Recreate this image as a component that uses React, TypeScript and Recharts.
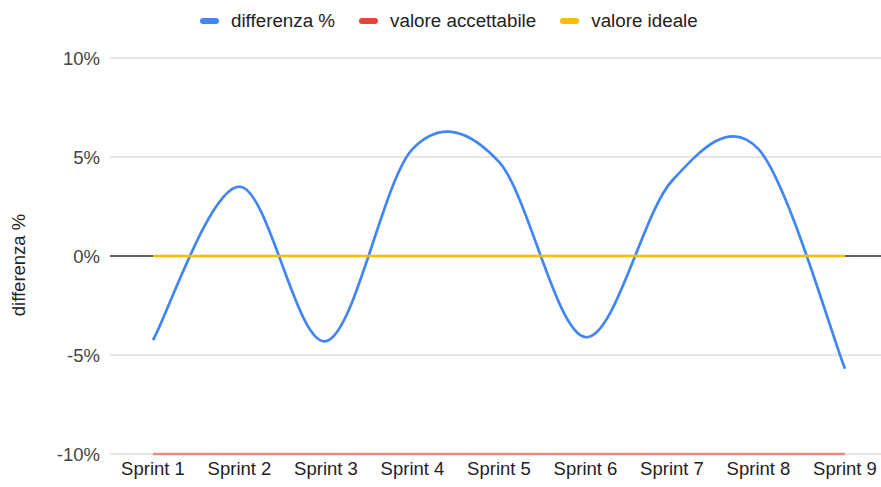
import React from "react";
import { CartesianGrid, Line, LineChart, ReferenceLine, XAxis, YAxis } from "recharts";

const sprints = ["Sprint 1", "Sprint 2", "Sprint 3", "Sprint 4", "Sprint 5", "Sprint 6", "Sprint 7", "Sprint 8", "Sprint 9"];
const differenza = [-4.25, 3.5, -4.3, 5.4, 4.75, -4.1, 3.8, 5.4, -5.7];
const accettabile = [-10, -10, -10, -10, -10, -10, -10, -10, -10];
const ideale = [0, 0, 0, 0, 0, 0, 0, 0, 0];
const yTicks = [-10, -5, 0, 5, 10];

const seriesNames = ["differenza %", "valore accettabile", "valore ideale"];
const seriesColors = ["#4285f4", "#ea4335", "#fbbc04"];

const rows = sprints.map((sprint, i) => ({
  sprint,
  differenza: differenza[i],
  accettabile: accettabile[i],
  ideale: ideale[i],
}));

const FONT = '"Liberation Sans", Arial, sans-serif';

// smooth curve like google charts' curveType "function" (catmull-rom through the points)
function smoothCurve(context: any) {
  let xs: number[] = [];
  let ys: number[] = [];
  return {
    areaStart() {},
    areaEnd() {},
    lineStart() {
      xs = [];
      ys = [];
    },
    point(x: number, y: number) {
      xs.push(+x);
      ys.push(+y);
    },
    lineEnd() {
      const n = xs.length;
      if (!n) return;
      context.moveTo(xs[0], ys[0]);
      for (let i = 0; i < n - 1; i++) {
        const a = Math.max(i - 1, 0);
        const d = Math.min(i + 2, n - 1);
        context.bezierCurveTo(
          xs[i] + (xs[i + 1] - xs[a]) / 6,
          ys[i] + (ys[i + 1] - ys[a]) / 6,
          xs[i + 1] - (xs[d] - xs[i]) / 6,
          ys[i + 1] - (ys[d] - ys[i]) / 6,
          xs[i + 1],
          ys[i + 1]
        );
      }
    },
  };
}

function TopLegend() {
  return (
    <div
      style={{
        position: "absolute",
        left: 200,
        top: 9,
        display: "flex",
        alignItems: "center",
        fontFamily: FONT,
        fontSize: 18.8,
        color: "#222",
        lineHeight: "24px",
      }}
    >
      {seriesNames.map((name, i) => (
        <div key={name} style={{ display: "flex", alignItems: "center", marginRight: 24 }}>
          <span
            style={{
              display: "inline-block",
              width: 19,
              height: 6,
              borderRadius: 3,
              background: seriesColors[i],
              marginRight: 12,
            }}
          />
          <span>{name}</span>
        </div>
      ))}
    </div>
  );
}

export default function App() {
  return (
    <div
      style={{
        position: "absolute",
        left: 0,
        top: 0,
        width: 881,
        height: 487,
        overflow: "hidden",
        background: "#fff",
        fontFamily: FONT,
      }}
    >
      <TopLegend />
      <LineChart width={900} height={487} data={rows} margin={{ top: 58, right: 12, bottom: 0, left: 0 }}>
        <CartesianGrid vertical={false} stroke="#cccccc" />
        <ReferenceLine y={0} stroke="#333333" strokeWidth={1.3} />
        <XAxis
          dataKey="sprint"
          height={33}
          interval={0}
          padding={{ left: 43, right: 43 }}
          axisLine={false}
          tickLine={false}
          tickSize={0}
          tickMargin={8}
          tick={{ fill: "#222", fontSize: 18.5, fontFamily: FONT }}
        />
        <YAxis
          width={110}
          domain={[-10, 10]}
          ticks={yTicks}
          interval={0}
          axisLine={false}
          tickLine={false}
          tickSize={0}
          tickMargin={10}
          tickFormatter={(v) => `${v}%`}
          tick={{ fill: "#444", fontSize: 18.5, fontFamily: FONT }}
          label={{
            content: () => (
              <text
                x={18}
                y={265}
                transform="rotate(-90 18 265)"
                textAnchor="middle"
                dominantBaseline="central"
                fill="#222"
                fontSize={18.5}
                fontFamily={FONT}
              >
                differenza %
              </text>
            ),
          }}
        />
        <Line
          dataKey="differenza"
          type={smoothCurve as any}
          stroke={seriesColors[0]}
          strokeWidth={2.7}
          dot={false}
          activeDot={false}
          isAnimationActive={false}
        />
        <Line
          dataKey="accettabile"
          type="linear"
          stroke={seriesColors[1]}
          strokeOpacity={0.55}
          strokeWidth={2.7}
          dot={false}
          activeDot={false}
          isAnimationActive={false}
        />
        <Line
          dataKey="ideale"
          type="linear"
          stroke={seriesColors[2]}
          strokeWidth={2.7}
          dot={false}
          activeDot={false}
          isAnimationActive={false}
        />
      </LineChart>
    </div>
  );
}
